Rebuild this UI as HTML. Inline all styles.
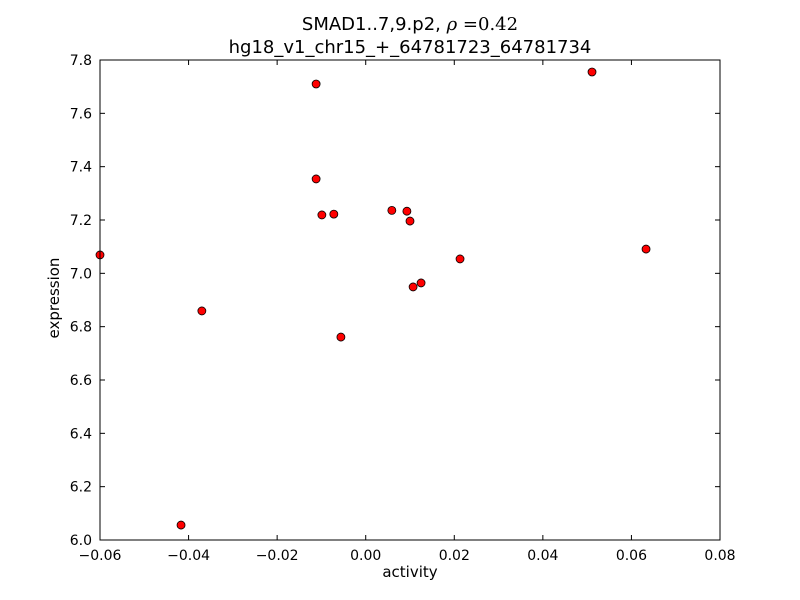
<!DOCTYPE html>
<html><head><meta charset="utf-8"><style>
body{margin:0;background:#fff;}
svg{display:block;font-family:"DejaVu Sans","Liberation Sans",sans-serif;}
</style></head><body>
<svg id="chart" width="800" height="600">
<rect width="800" height="600" fill="#fff"/>
<text x="410" y="30" font-size="18" text-anchor="middle">SMAD1..7,9.p2, <tspan font-family="DejaVu Serif,serif" font-style="italic">ρ</tspan><tspan font-family="DejaVu Serif,serif"> =0.42</tspan></text>
<text x="410" y="53" font-size="18" text-anchor="middle">hg18_v1_chr15_+_64781723_64781734</text>
<text x="410" y="577" font-size="15" text-anchor="middle">activity</text>
<text x="59" y="298" font-size="15" text-anchor="middle" transform="rotate(-90 59 298)">expression</text>
<g id="ticks"></g>
<g id="points"></g>
<rect x="100" y="60" width="620" height="480" fill="none" stroke="#000" stroke-width="1"/>
</svg>
<script>
const xVals=[-0.06,-0.0417,-0.037,-0.0112,-0.0112,-0.0099,-0.0072,-0.0056,0.0059,0.0093,0.0100,0.0107,0.0125,0.0213,0.0511,0.0633];
const yVals=[7.069,6.056,6.859,7.71,7.354,7.219,7.222,6.761,7.236,7.233,7.196,6.949,6.964,7.054,7.755,7.091];
const xTicks=[-0.06,-0.04,-0.02,0.00,0.02,0.04,0.06,0.08];
const xTickLabels=["−0.06","−0.04","−0.02","0.00","0.02","0.04","0.06","0.08"];
const yTicks=[6.0,6.2,6.4,6.6,6.8,7.0,7.2,7.4,7.6,7.8];
const yTickLabels=["6.0","6.2","6.4","6.6","6.8","7.0","7.2","7.4","7.6","7.8"];
const L=100,R=720,T=60,B=540,x0=-0.06,x1=0.08,y0=6.0,y1=7.8;
const sx=v=>L+(v-x0)/(x1-x0)*(R-L);
const sy=v=>B-(v-y0)/(y1-y0)*(B-T);
const NS="http://www.w3.org/2000/svg";
const tg=document.getElementById('ticks'),pg=document.getElementById('points');
function mk(tag,attrs,parent){const e=document.createElementNS(NS,tag);for(const k in attrs)e.setAttribute(k,attrs[k]);parent.appendChild(e);return e;}
xTicks.forEach((v,i)=>{const x=sx(v);
 let a=mk('line',{x1:x,x2:x,y1:B,y2:B-5,stroke:'#000'},tg);
 
 
 let b=mk('line',{x1:x,x2:x,y1:T,y2:T+5,stroke:'#000'},tg);
 
 
 let t=mk('text',{x:x,y:B+20,'font-size':14,'text-anchor':'middle'},tg);t.textContent=xTickLabels[i];
 
 
});
yTicks.forEach((v,i)=>{const y=sy(v);
 let a=mk('line',{x1:L,x2:L+5,y1:y,y2:y,stroke:'#000'},tg);
 
 
 let b=mk('line',{x1:R,x2:R-5,y1:y,y2:y,stroke:'#000'},tg);
 
 
 let t=mk('text',{x:L-8,y:y+5,'font-size':14,'text-anchor':'end'},tg);t.textContent=yTickLabels[i];
 
 
});
xVals.forEach((v,i)=>{
 let c=mk('circle',{cx:sx(v),cy:sy(yVals[i]),r:4,fill:'#ff0000',stroke:'#000','stroke-width':0.8},pg);
 
 
});
</script>
</body></html>
